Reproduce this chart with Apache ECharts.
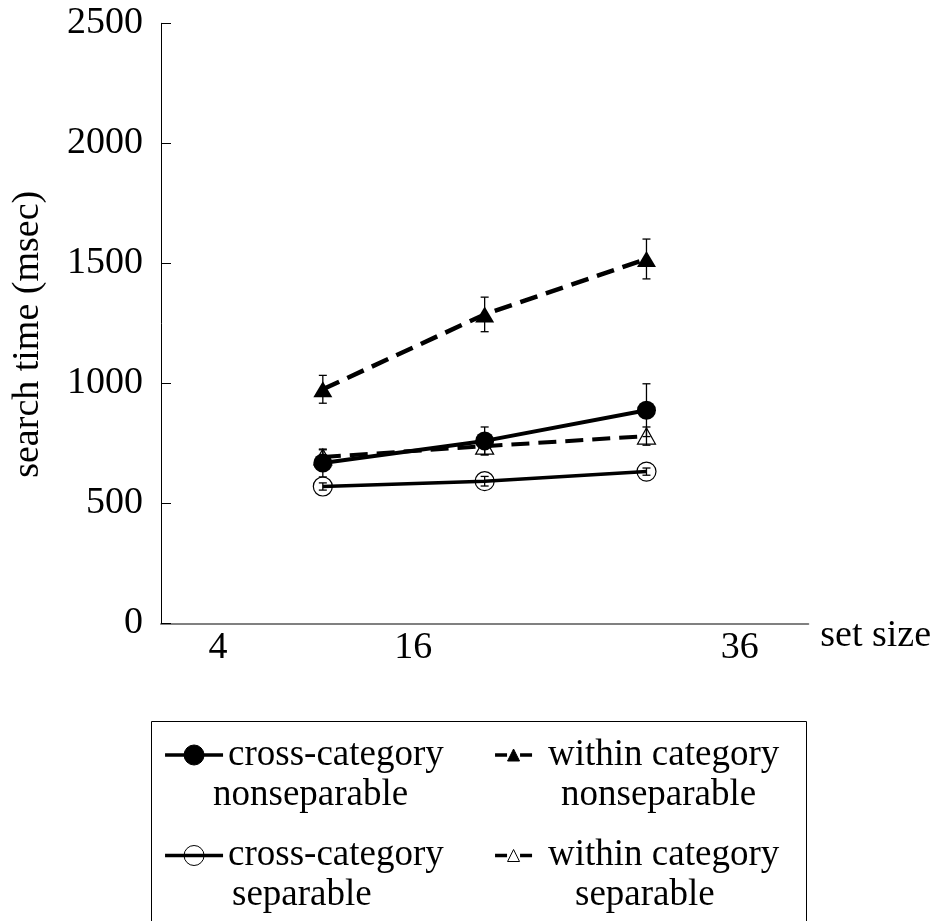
<!DOCTYPE html>
<html>
<head>
<meta charset="utf-8">
<script src="https://cdn.jsdelivr.net/npm/echarts@6/dist/echarts.min.js"></script>
<style>
  html, body { margin: 0; padding: 0; background: #fff; }
  #chart { width: 939px; height: 921px; }
</style>
</head>
<body>
<div id="chart"></div>
<script>
// Plot positions of the three set-size conditions along the x axis
const POSITIONS = [1, 2, 3];
// Set-size tick labels and where they sit along the x axis
const SET_SIZE_LABELS = ['4', '16', '36'];
const SET_SIZE_LABEL_AT = [0.352, 1.559, 3.576];

// Mean search times (msec) and error-bar half widths per condition
const crossNonsep = [668, 760, 888];
const crossNonsepErr = [58, 58, 110];
const crossSep = [570, 592, 632];
const crossSepErr = [15, 20, 15];
const withinNonsep = [975, 1287, 1518];
const withinNonsepErr = [58, 72, 83];
const withinSep = [693, 738, 780];
const withinSepErr = [30, 36, 38];

const NAMES = [
  'cross-category nonseparable',
  'cross-category separable',
  'within category nonseparable',
  'within category separable'
];
// Left offsets (px) of the two legend text lines for each entry
const LEGEND_INDENT = [[0, -15], [0, 4], [11, 24], [11, 38]];

const FONT = "'Liberation Serif', 'Times New Roman', serif";

function pairs(values) {
  return POSITIONS.map((x, i) => [x, values[i]]);
}

function errorBars(values, errs) {
  return {
    type: 'custom',
    z: 10,
    silent: true,
    data: POSITIONS.map((x, i) => [x, values[i] - errs[i], values[i] + errs[i]]),
    encode: { x: 0, y: [1, 2] },
    renderItem(params, api) {
      const x = api.value(0);
      const lo = api.coord([x, api.value(1)]);
      const hi = api.coord([x, api.value(2)]);
      const w = 4;
      const st = { stroke: '#000', lineWidth: 1.3 };
      return {
        type: 'group',
        children: [
          { type: 'line', shape: { x1: lo[0], y1: lo[1], x2: hi[0], y2: hi[1] }, style: st },
          { type: 'line', shape: { x1: lo[0] - w, y1: lo[1], x2: lo[0] + w, y2: lo[1] }, style: st },
          { type: 'line', shape: { x1: hi[0] - w, y1: hi[1], x2: hi[0] + w, y2: hi[1] }, style: st }
        ]
      };
    }
  };
}

const rich = {};
NAMES.forEach((n, i) => {
  rich['a' + i] = { fontSize: 37, fontFamily: FONT, color: '#000', lineHeight: 40, padding: [0, 0, 0, LEGEND_INDENT[i][0]] };
  rich['b' + i] = { fontSize: 37, fontFamily: FONT, color: '#000', lineHeight: 40, padding: [0, 0, 0, LEGEND_INDENT[i][1]] };
});

function legendText(name) {
  const i = NAMES.indexOf(name);
  const k = name.lastIndexOf(' ');
  return '{a' + i + '|' + name.slice(0, k) + '}\n{b' + i + '|' + name.slice(k + 1) + '}';
}

function legendBlock(names, left, itemWidth, itemHeight, lineType) {
  return {
    data: names,
    orient: 'vertical',
    left: left,
    top: 735,
    padding: 0,
    itemGap: 22,
    itemWidth: itemWidth,
    itemHeight: itemHeight,
    selectedMode: false,
    formatter: legendText,
    lineStyle: { width: 3.5, type: lineType },
    itemStyle: { borderWidth: 1 },
    textStyle: {
      fontSize: 37, fontFamily: FONT, color: '#000', lineHeight: 40,
      padding: [0, 0, -40, 0],
      rich: rich
    }
  };
}

const chart = echarts.init(document.getElementById('chart'), null, { renderer: 'canvas' });

chart.setOption({
  animation: false,
  backgroundColor: '#fff',
  textStyle: { fontFamily: FONT },
  grid: {
    left: 161, right: 130.7, top: 23.3, bottom: 297.7,
    outerBoundsMode: 'none'
  },
  xAxis: {
    type: 'value',
    min: 0,
    max: 4,
    axisLine: { show: true, lineStyle: { color: '#808080', width: 2 } },
    axisTick: { show: false },
    splitLine: { show: false },
    axisLabel: {
      customValues: SET_SIZE_LABEL_AT,
      margin: 6,
      fontSize: 38,
      fontFamily: FONT,
      color: '#000',
      formatter: function (v) {
        let best = 0;
        SET_SIZE_LABEL_AT.forEach((p, i) => {
          if (Math.abs(p - v) < Math.abs(SET_SIZE_LABEL_AT[best] - v)) best = i;
        });
        return SET_SIZE_LABELS[best];
      }
    },
    name: 'set size',
    nameLocation: 'end',
    nameGap: 12,
    nameTextStyle: {
      fontSize: 38, fontFamily: FONT, color: '#000',
      verticalAlign: 'top', lineHeight: 26
    }
  },
  yAxis: {
    type: 'value',
    min: 0,
    max: 2500,
    interval: 500,
    axisLine: { show: true, lineStyle: { color: '#000', width: 1 } },
    axisTick: { show: true, inside: true, length: 10, lineStyle: { color: '#000', width: 1 } },
    splitLine: { show: false },
    axisLabel: {
      margin: 18, fontSize: 38, fontFamily: FONT, color: '#000',
      formatter: function (v) { return String(v); }
    },
    name: 'search time (msec)',
    nameLocation: 'middle',
    nameGap: 114,
    nameTextStyle: { fontSize: 38, fontFamily: FONT, color: '#000', padding: [0, 22, 0, 0] },
    z: 5
  },
  legend: [
    legendBlock([NAMES[0], NAMES[1]], 163.3, 58, 25, 'solid'),
    legendBlock([NAMES[2], NAMES[3]], 493.3, 37, 15, [12, 13])
  ],
  graphic: [{
    type: 'rect',
    shape: { x: 151.5, y: 721.5, width: 655, height: 260 },
    style: { fill: 'none', stroke: '#000', lineWidth: 1 },
    silent: true
  }],
  series: [
    {
      name: NAMES[3],
      type: 'line',
      data: pairs(withinSep),
      symbol: 'triangle',
      symbolSize: [18, 16],
      lineStyle: { color: '#000', width: 4, type: [18, 9] },
      itemStyle: { color: 'rgba(0,0,0,0)', borderColor: '#000', borderWidth: 1.2 },
      z: 2
    },
    {
      name: NAMES[1],
      type: 'line',
      data: pairs(crossSep),
      symbol: 'circle',
      symbolSize: 19,
      lineStyle: { color: '#000', width: 3.5, type: 'solid' },
      itemStyle: { color: 'rgba(0,0,0,0)', borderColor: '#000', borderWidth: 1.2 },
      z: 3
    },
    {
      name: NAMES[0],
      type: 'line',
      data: pairs(crossNonsep),
      symbol: 'circle',
      symbolSize: 19,
      lineStyle: { color: '#000', width: 4, type: 'solid' },
      itemStyle: { color: '#000', borderColor: '#000', borderWidth: 0 },
      z: 4
    },
    {
      name: NAMES[2],
      type: 'line',
      data: pairs(withinNonsep),
      symbol: 'triangle',
      symbolSize: [19, 16],
      lineStyle: { color: '#000', width: 4.5, type: [18, 9] },
      itemStyle: { color: '#000', borderColor: '#000', borderWidth: 0 },
      z: 4
    },
    errorBars(crossNonsep, crossNonsepErr),
    errorBars(crossSep, crossSepErr),
    errorBars(withinNonsep, withinNonsepErr),
    errorBars(withinSep, withinSepErr)
  ]
});
</script>
</body>
</html>
